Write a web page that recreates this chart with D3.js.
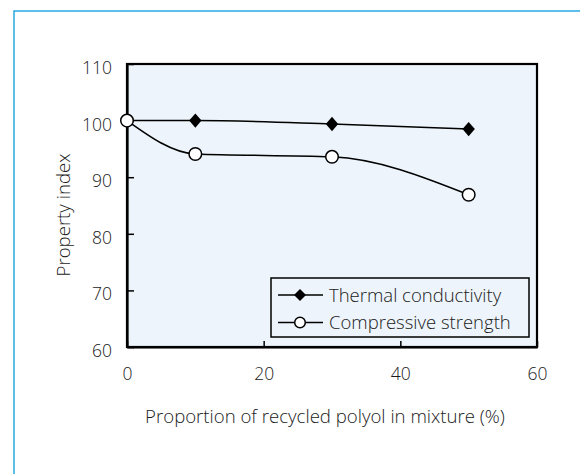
<!DOCTYPE html>
<html>
<head>
<meta charset="utf-8">
<script src="https://cdnjs.cloudflare.com/ajax/libs/d3/7.8.5/d3.min.js"></script>
<style>
  * { margin: 0; padding: 0; }
  body { background: #fff; width: 580px; height: 474px; overflow: hidden; }
  svg text { font-family: "Open Sans", "Liberation Sans", sans-serif; font-weight: 300; fill: #1a1a1a; }
</style>
</head>
<body>
<div id="chart"></div>
<script>
// Data
const proportions = [0, 10, 30, 50];
const thermalConductivity = [100, 100, 99.4, 98.5];
const compressiveStrength = [100, 94.1, 93.6, 86.9];
const seriesNames = ["Thermal conductivity", "Compressive strength"];
const xTicks = [0, 20, 40, 60];
const yTicks = [60, 70, 80, 90, 100, 110];

const width = 580, height = 474;
const margin = { left: 127, top: 64, right: 43, bottom: 127 };

const svg = d3.select("#chart").append("svg")
    .attr("width", width)
    .attr("height", height);

// Light blue frame round the figure
svg.append("rect")
    .attr("x", 14).attr("y", 11)
    .attr("width", 700).attr("height", 600)
    .attr("fill", "none")
    .attr("stroke", "#29abe2")
    .attr("stroke-width", 1.5);

const x = d3.scaleLinear().domain([0, 60]).range([margin.left, width - margin.right]);
const y = d3.scaleLinear().domain([60, 110]).range([height - margin.bottom, margin.top]);

// Plot background and border
svg.append("rect")
    .attr("x", x(0)).attr("y", y(110))
    .attr("width", x(60) - x(0)).attr("height", y(60) - y(110))
    .attr("fill", "#edf4fb")
    .attr("stroke", "#000")
    .attr("stroke-width", 2.2);

// Axes with inward ticks
const xAxis = svg.append("g")
    .attr("transform", `translate(0,${y(60)})`)
    .call(d3.axisBottom(x).tickValues(xTicks).tickSizeInner(-6).tickSizeOuter(0).tickPadding(21));
const yAxis = svg.append("g")
    .attr("transform", `translate(${x(0)},0)`)
    .call(d3.axisLeft(y).tickValues(yTicks).tickSizeInner(-7).tickSizeOuter(0).tickPadding(15));

[xAxis, yAxis].forEach(g => {
  g.select(".domain").attr("stroke", "#000").attr("stroke-width", 2.2);
  g.selectAll(".tick line").attr("stroke", "#000").attr("stroke-width", 1.5);
  g.selectAll(".tick text").attr("font-size", 17.5).attr("font-family", null).attr("fill", "#1a1a1a");
});
yAxis.selectAll(".tick text").attr("dy", "0.54em");

// Axis titles
svg.append("text")
    .attr("x", 325).attr("y", 423)
    .attr("text-anchor", "middle")
    .attr("font-size", 18.6)
    .text("Proportion of recycled polyol in mixture (%)");

svg.append("text")
    .attr("transform", "translate(70,215) rotate(-90)")
    .attr("text-anchor", "middle")
    .attr("font-size", 18.6)
    .text("Property index");

// Lines
const line = d3.line()
    .x(d => x(d[0]))
    .y(d => y(d[1]))
    .curve(d3.curveMonotoneX);

const thermalPts = proportions.map((p, i) => [p, thermalConductivity[i]]);
const compPts = proportions.map((p, i) => [p, compressiveStrength[i]]);

[thermalPts, compPts].forEach(pts => {
  svg.append("path")
      .datum(pts)
      .attr("d", line)
      .attr("fill", "none")
      .attr("stroke", "#000")
      .attr("stroke-width", 1.5);
});

const diamond = "M0,-7.2L6.2,0L0,7.2L-6.2,0Z";

svg.selectAll(".diamond")
    .data(thermalPts)
    .join("path")
    .attr("class", "diamond")
    .attr("d", diamond)
    .attr("transform", d => `translate(${x(d[0])},${y(d[1])})`)
    .attr("fill", "#000");

svg.selectAll(".circ")
    .data(compPts)
    .join("circle")
    .attr("class", "circ")
    .attr("cx", d => x(d[0]))
    .attr("cy", d => y(d[1]))
    .attr("r", 6.3)
    .attr("fill", "#fff")
    .attr("stroke", "#000")
    .attr("stroke-width", 1.5);

// Legend
const legend = svg.append("g").attr("transform", "translate(271,278)");
legend.append("rect")
    .attr("width", 258).attr("height", 59)
    .attr("fill", "#edf4fb")
    .attr("stroke", "#000")
    .attr("stroke-width", 1.5);

seriesNames.forEach((name, i) => {
  const row = legend.append("g").attr("transform", `translate(0,${17 + i * 27.5})`);
  row.append("line")
      .attr("x1", 7).attr("x2", 52)
      .attr("stroke", "#000").attr("stroke-width", 1.5);
  if (i === 0) {
    row.append("path")
        .attr("d", "M0,-6L6,0L0,6L-6,0Z")
        .attr("transform", "translate(29,0)")
        .attr("fill", "#000");
  } else {
    row.append("circle")
        .attr("cx", 29).attr("r", 5.3)
        .attr("fill", "#fff").attr("stroke", "#000").attr("stroke-width", 1.5);
  }
  row.append("text")
      .attr("x", 58).attr("dy", "0.36em")
      .attr("font-size", 18.5)
      .text(name);
});
</script>
</body>
</html>
